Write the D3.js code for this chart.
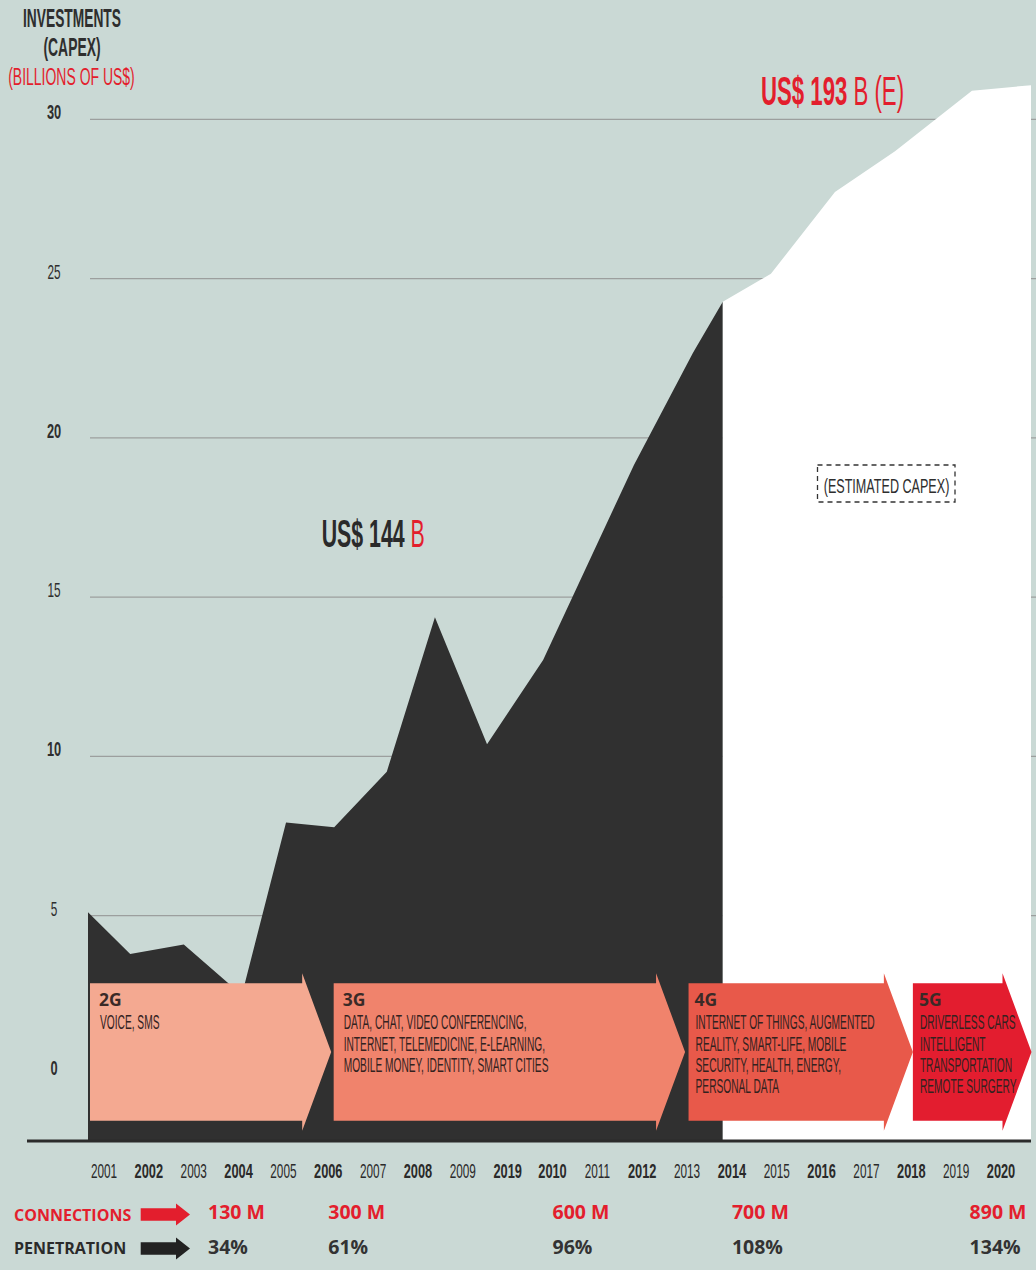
<!DOCTYPE html>
<html>
<head>
<meta charset="utf-8">
<script src="https://cdn.jsdelivr.net/npm/d3@7"></script>
<style>
html, body { margin: 0; padding: 0; background: #cad9d5; }
svg { display: block; }
</style>
</head>
<body>
<div id="chart"></div>
<script>
// Capex in billions of US$. The original points are hand placed, so the
// year positions are read off the drawing and are not whole years.
var actualYears = [2001, 2001.85, 2002.93, 2004.1, 2004.99, 2005.96, 2007.02, 2007.99, 2009.04, 2010.17, 2012.0, 2013.19, 2013.79];
var actualCapex = [5.11, 3.8, 4.1, 2.51, 7.93, 7.78, 9.52, 14.37, 10.38, 13.03, 19.15, 22.67, 24.27];

var estYears = [2013.79, 2014.76, 2016.05, 2017.26, 2018.81, 2020];
var estCapex = [24.27, 25.15, 27.72, 29.0, 30.9, 31.07];

var yTicks = [0, 5, 10, 15, 20, 25, 30];

// the year row as printed (with its "2019" typo)
var yearLabels = ["2001", "2002", "2003", "2004", "2005", "2006", "2007", "2008", "2009", "2019",
    "2010", "2011", "2012", "2013", "2014", "2015", "2016", "2017", "2018", "2019", "2020"];

var generations = ["2G", "3G", "4G", "5G"];
var genStart = [2001.04, 2005.95, 2013.1, 2017.62];
var genEnd = [2005.9, 2013.03, 2017.62, 2020.01];
var genUses = [
    ["VOICE, SMS"],
    ["DATA, CHAT, VIDEO CONFERENCING,", "INTERNET, TELEMEDICINE, E-LEARNING,", "MOBILE MONEY, IDENTITY, SMART CITIES"],
    ["INTERNET OF THINGS, AUGMENTED", "REALITY, SMART-LIFE, MOBILE", "SECURITY, HEALTH, ENERGY,", "PERSONAL DATA"],
    ["DRIVERLESS CARS", "INTELLIGENT", "TRANSPORTATION", "REMOTE SURGERY"]
];

var connections = ["130 M", "300 M", "600 M", "700 M", "890 M"];
var penetration = ["34%", "61%", "96%", "108%", "134%"];
var statSlot = [2.32, 5, 10, 14, 19.3]; // where each figure sits along the year row

var width = 1036, height = 1270;
var ink = "#2e2e2e", red = "#e31e2d", boxInk = "#33221f";
var genColors = ["#f4a991", "#f0836c", "#e8594a", "#e31d2f"];
var cond = "'Liberation Sans', Arial, sans-serif";
var geo = "'Open Sans', 'Noto Sans', sans-serif";

var svg = d3.select("#chart").append("svg")
    .attr("width", width)
    .attr("height", height);

svg.append("rect").attr("width", width).attr("height", height).attr("fill", "#cad9d5");

var x = d3.scaleLinear().domain([2001, 2020]).range([88, 1031]);
var y = d3.scaleLinear().domain([0, 30]).range([1075, 119.3]);
var slot = d3.scaleLinear().domain([0, 20]).range([104, 1001]);
var plotBottom = 1141;

// condensed text: squeeze a normal face horizontally
function label(parent, px, py, str, o) {
    return parent.append("text")
        .attr("transform", "translate(" + px + "," + py + ") scale(" + (o.sx || 1) + ",1)")
        .attr("font-family", o.family || cond)
        .attr("font-size", o.size)
        .attr("font-weight", o.weight || 400)
        .attr("fill", o.fill || ink)
        .attr("text-anchor", o.anchor || "start")
        .text(str);
}

// gridlines
svg.append("g").selectAll("line")
    .data(yTicks.filter(function(d) { return d > 0; }))
    .enter().append("line")
    .attr("x1", 90).attr("x2", width)
    .attr("y1", function(d) { return y(d); })
    .attr("y2", function(d) { return y(d); })
    .attr("stroke", "#9c9f9e")
    .attr("stroke-width", 1.3);

var area = d3.area()
    .x(function(d) { return x(d[0]); })
    .y0(plotBottom)
    .y1(function(d) { return y(d[1]); });

svg.append("path")
    .datum(d3.zip(actualYears, actualCapex))
    .attr("d", area)
    .attr("fill", "#303030");

svg.append("path")
    .datum(d3.zip(estYears, estCapex))
    .attr("d", area)
    .attr("fill", "#ffffff");

svg.append("line")
    .attr("x1", 27).attr("x2", x(2020))
    .attr("y1", plotBottom).attr("y2", plotBottom)
    .attr("stroke", "#2b2b2b")
    .attr("stroke-width", 3);

// generation arrows
var boxTop = 983.3, boxBottom = 1120.7, notch = 10, head = 29;
var gens = svg.append("g").selectAll("g")
    .data(generations)
    .enter().append("g");

gens.append("polygon")
    .attr("points", function(d, i) {
        var x0 = x(genStart[i]), tip = x(genEnd[i]), x1 = tip - head;
        return [[x0, boxTop], [x1, boxTop], [x1, boxTop - notch], [tip, (boxTop + boxBottom) / 2],
            [x1, boxBottom + notch], [x1, boxBottom], [x0, boxBottom]].join(" ");
    })
    .attr("fill", function(d, i) { return genColors[i]; });

gens.each(function(d, i) {
    var g = d3.select(this), x0 = x(genStart[i]);
    var pad = i < 2 ? 10 : 7;
    label(g, x0 + pad - 1, 1006, d, {size: 17.5, weight: 700, family: geo, fill: "#3a2a27"});
    genUses[i].forEach(function(line, j) {
        label(g, x0 + pad, 1029.3 + j * 21.2, line, {size: 20, sx: 0.51, fill: boxInk});
    });
});

// y axis
label(svg, 72, 26.7, "INVESTMENTS", {size: 25.7, weight: 700, sx: 0.536, anchor: "middle"});
label(svg, 72, 55.5, "(CAPEX)", {size: 25.7, weight: 700, sx: 0.54, anchor: "middle"});
label(svg, 71.5, 85, "(BILLIONS OF US$)", {size: 23.3, sx: 0.6, anchor: "middle", fill: red});

yTicks.forEach(function(t) {
    var bold = t % 10 === 0;
    label(svg, 54, y(t), String(t), {size: 20, weight: bold ? 700 : 400, sx: bold ? 0.64 : 0.59, anchor: "middle"});
});

// year row
yearLabels.forEach(function(yr, i) {
    var bold = i < 10 ? i % 2 === 1 : (+yr) % 2 === 0;
    label(svg, slot(i), 1178.3, yr, {size: 20, weight: bold ? 700 : 400, sx: bold ? 0.64 : 0.59,
        anchor: "middle", fill: "#2a2a2a"});
});

// totals
var t144 = label(svg, 321.7, 546.7, "US$ 144", {size: 39.5, weight: 700, sx: 0.54, fill: "#2a2a2a"});
t144.append("tspan").attr("font-weight", 400).attr("fill", red).text(" B");

var t193 = label(svg, 761, 105, "US$ 193", {size: 40.5, weight: 700, sx: 0.548, fill: red});
t193.append("tspan").attr("font-weight", 400).text(" B (E)");

svg.append("rect")
    .attr("x", 817.5).attr("y", 465)
    .attr("width", 137.5).attr("height", 37)
    .attr("fill", "none")
    .attr("stroke", "#333")
    .attr("stroke-width", 1.3)
    .attr("stroke-dasharray", "5,4");
label(svg, 886.5, 493, "(ESTIMATED CAPEX)", {size: 21, sx: 0.6, anchor: "middle"});

// connections / penetration rows
function rowArrow(cy, fill) {
    svg.append("polygon")
        .attr("points", [[140.7, cy - 6.3], [176, cy - 6.3], [176, cy - 11], [190, cy],
            [176, cy + 11], [176, cy + 6.3], [140.7, cy + 6.3]].join(" "))
        .attr("fill", fill);
}
label(svg, 14, 1220.7, "CONNECTIONS", {size: 16, weight: 700, family: geo, fill: red});
rowArrow(1214.5, red);
label(svg, 14, 1254.3, "PENETRATION", {size: 16, weight: 700, family: geo, fill: "#2a2a2a"});
rowArrow(1248.5, "#222");

connections.forEach(function(c, i) {
    label(svg, slot(statSlot[i]), 1219, c, {size: 19.5, weight: 700, family: geo, fill: red});
    label(svg, slot(statSlot[i]), 1254.3, penetration[i], {size: 19.5, weight: 700, family: geo, fill: "#333"});
});
</script>
</body>
</html>
